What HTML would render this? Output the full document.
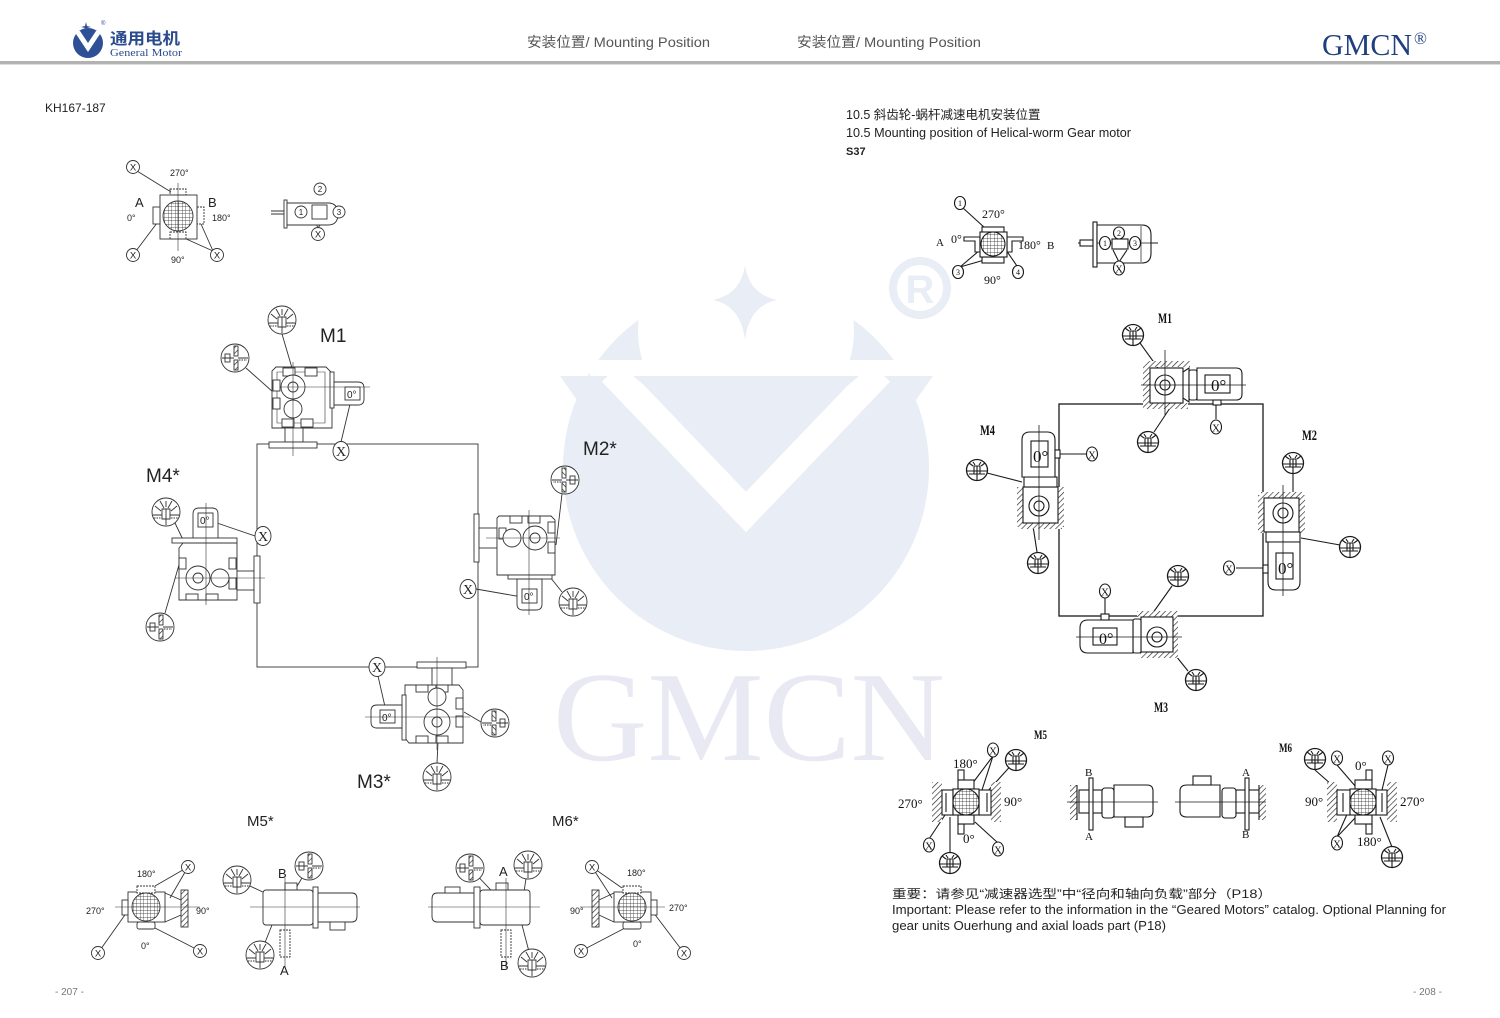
<!DOCTYPE html>
<html><head><meta charset="utf-8">
<style>
html,body{margin:0;padding:0;background:#fff;}
svg{display:block;}
text{font-family:"Liberation Sans","Noto Sans CJK SC",sans-serif;}
.s{font-family:"Liberation Serif","Noto Serif CJK SC",serif;}
</style></head><body>
<svg width="1500" height="1018" viewBox="0 0 1500 1018" xmlns="http://www.w3.org/2000/svg">
<defs>
<pattern id="hp" width="4" height="4" patternUnits="userSpaceOnUse" patternTransform="rotate(45)">
<rect width="4" height="4" fill="#fff"/><line x1="0" y1="0" x2="0" y2="4" stroke="#222" stroke-width="1.3"/></pattern>
<pattern id="gr" width="3.5" height="3.5" patternUnits="userSpaceOnUse">
<rect width="3.5" height="3.5" fill="#fff"/><path d="M0,0 H3.5 M0,0 V3.5" stroke="#222" stroke-width="0.7" fill="none"/></pattern>
<g id="c1"><circle r="14" fill="#fff"/>
<path d="M-13,3 H-4 M4,3 H13 M-4,-3 H4 V7 H-4 Z M0,-3 V13 M-2,-4 L-6,-11 M2,-4 L6,-11 M-5,-1 L-11,-6 M5,-1 L11,-6 M0,-5 V-11"/>
<path d="M-12,6 H-5 M5,6 H12" stroke-dasharray="1.5 1"/></g>
<g id="c2"><circle r="14" fill="#fff"/>
<rect x="-1" y="-12" width="4" height="10" fill="url(#hp)"/><rect x="-1" y="2" width="4" height="10" fill="url(#hp)"/>
<path d="M-13,0 H-1 M3,0 H13"/><rect x="-10" y="-4" width="5" height="8"/><path d="M4,2 H12" stroke-dasharray="1.5 1"/></g>
<g id="c3"><circle r="10.5" fill="#fff" stroke-width="1.3"/>
<path d="M-10,1 H10 M-3,-4 h6 v8 h-6z M0,-4 V10 M-4,-4 L-8,-7 M4,-4 L8,-7 M-2,-5 L-4,-8 M2,-5 L4,-8 M-8,4 H8"/></g>
<g id="x1"><ellipse rx="8" ry="9.5" fill="#fff"/><text class="s" y="5" font-size="14" text-anchor="middle" stroke="none" fill="#222">X</text></g>
<g id="x2"><circle r="6.5" fill="#fff"/><text y="3.5" font-size="9.5" text-anchor="middle" stroke="none" fill="#222">X</text></g>
<g id="x3"><ellipse rx="5.5" ry="7" fill="#fff"/><text class="s" y="4.5" font-size="11" text-anchor="middle" stroke="none" fill="#111">X</text></g>
</defs>

<!-- ===== WATERMARK ===== -->
<circle cx="746" cy="468" r="183" fill="#e8edf6"/>
<circle cx="746" cy="330" r="108" fill="#fff"/>
<polygon points="560,376 933,376 746,640" fill="#e8edf6"/>
<polyline points="612,372 746,512 880,372" fill="none" stroke="#fff" stroke-width="28" stroke-linejoin="miter"/>
<rect x="590" y="360" width="320" height="16" fill="#fff"/>
<polygon points="633,376 859,376 746,470" fill="#e8edf6"/>
<path d="M745,265 Q749,294 777,300 Q749,306 745,340 Q741,306 713,300 Q741,294 745,265Z" fill="#e8edf6"/>
<circle cx="920" cy="288" r="27" fill="none" stroke="#e8edf6" stroke-width="8"/>
<text x="920" y="303" font-size="40" font-weight="bold" text-anchor="middle" fill="#e8edf6">R</text>
<text class="s" x="553" y="760" font-size="128" textLength="392" lengthAdjust="spacingAndGlyphs" fill="#e9e9f4">GMCN</text>

<!-- ===== HEADER ===== -->
<circle cx="88" cy="43" r="15" fill="#2d5097"/>
<path d="M74,31 L88,52 L102,31 L96,31 L88,43 L80,31Z" fill="#fff"/>
<path d="M86,22 L87,26 L91,27 L87,28 L86,32 L85,28 L81,27 L85,26Z" fill="#2d5097"/>
<text x="101" y="25" font-size="6" fill="#2d5097">®</text>
<text x="110" y="44" font-size="16" font-weight="bold" fill="#2a4b8d" textLength="70" lengthAdjust="spacingAndGlyphs" font-family="'Noto Sans CJK SC',sans-serif">通用电机</text>
<text class="s" x="110" y="56" font-size="11" textLength="72" lengthAdjust="spacingAndGlyphs" fill="#2a4b8d">General Motor</text>
<text x="527" y="47" font-size="14" fill="#555" textLength="183" lengthAdjust="spacingAndGlyphs">安装位置/ Mounting Position</text>
<text x="797" y="47" font-size="14" fill="#555" textLength="184" lengthAdjust="spacingAndGlyphs">安装位置/ Mounting Position</text>
<text class="s" x="1322" y="55" font-size="31" fill="#1f3f7e" textLength="90" lengthAdjust="spacingAndGlyphs">GMCN</text>
<text class="s" x="1414" y="44" font-size="17" fill="#1f3f7e">®</text>
<rect x="0" y="61" width="1500" height="3" fill="#b2b2b2"/>
<rect x="0" y="64" width="1500" height="1" fill="#dcdcdc"/>

<!-- ===== LEFT PAGE ===== -->
<text x="45" y="112" font-size="12" fill="#222">KH167-187</text>

<g stroke="#333" stroke-width="0.9" fill="none">
<!-- top small left -->
<path d="M137,171 L171,192 M136,251 L157,223 M213,251 L201,224 M213,251 L184,238"/>
<rect x="160" y="195" width="37" height="44" fill="#fff"/>
<circle cx="178" cy="216" r="15" fill="url(#gr)"/>
<rect x="170" y="189" width="16" height="6" stroke-dasharray="2 1"/>
<rect x="197" y="207" width="7" height="17" stroke-dasharray="2 1"/>
<rect x="170" y="232" width="16" height="7" stroke-dasharray="2 1"/>
<rect x="153" y="207" width="7" height="17" fill="#fff"/>
<path d="M178,183 V251" stroke-width="0.6"/>
<use href="#x2" x="133" y="167"/><use href="#x2" x="133" y="255"/><use href="#x2" x="217" y="255"/>
<!-- top small right motor -->
<path d="M271,211 H284 M271,214 H284"/>
<path d="M318,228 L314,219 M318,228 L324,219"/>
<rect x="284" y="200" width="3" height="28" fill="#fff"/>
<path d="M287,203 H328 Q338,203 338,214 Q338,225 328,225 H287 Z" fill="#fff"/>
<rect x="312" y="205" width="15" height="14"/>
<circle cx="320" cy="189" r="6" fill="#fff"/><circle cx="301" cy="212" r="6" fill="#fff"/><circle cx="339" cy="212" r="6" fill="#fff"/>
<use href="#x2" x="318" y="234"/>

<!-- main rect -->
<rect x="257" y="444" width="221" height="223"/>

<!-- M1 -->
<path d="M282,334 L292,368 M246,368 L282,400 M341,442 L351,400"/>
<path d="M276,367 H326 L332,373 V428 H272 V371 Z" fill="#fff"/>
<path d="M277,372 H325 V423 H277 Z" stroke-width="0.6"/>
<rect x="283" y="368" width="12" height="8" fill="#fff"/><rect x="305" y="368" width="12" height="8" fill="#fff"/>
<rect x="282" y="419" width="12" height="8" fill="#fff"/><rect x="301" y="419" width="12" height="8" fill="#fff"/>
<rect x="273" y="380" width="7" height="11" fill="#fff"/><rect x="273" y="398" width="7" height="11" fill="#fff"/>
<circle cx="293" cy="387" r="12" fill="#fff"/><circle cx="293" cy="387" r="5"/>
<circle cx="293" cy="409" r="9" fill="#fff"/>
<rect x="330" y="372" width="4" height="36" fill="#fff"/>
<path d="M334,382 H358 Q364,382 364,388 V399 Q364,405 358,405 H334 Z" fill="#fff"/>
<rect x="345" y="387" width="15" height="13"/>
<rect x="285" y="428" width="18" height="14" fill="#fff"/>
<rect x="269" y="442" width="48" height="6" fill="#fff"/>
<path d="M293,362 V456 M280,387 H370" stroke-width="0.6"/>
<use href="#c1" x="282" y="320"/><use href="#c2" x="235" y="358"/><use href="#x1" x="341" y="451"/>

<!-- M2* -->
<path d="M562,494 L556,545 M562,592 L546,572 M476,589 L522,597"/>
<rect x="474" y="514" width="5" height="48" fill="#fff"/>
<rect x="479" y="528" width="18" height="20" fill="#fff"/>
<path d="M499,516 H551 L555,520 V575 H497 V518 Z" fill="#fff"/>
<rect x="510" y="516" width="12" height="7" fill="#fff"/><rect x="528" y="516" width="12" height="7" fill="#fff"/>
<rect x="548" y="522" width="7" height="11" fill="#fff"/><rect x="548" y="542" width="7" height="11" fill="#fff"/>
<rect x="499" y="528" width="7" height="11" fill="#fff"/>
<circle cx="535" cy="538" r="12" fill="#fff"/><circle cx="535" cy="538" r="5"/><circle cx="512" cy="538" r="9" fill="#fff"/>
<rect x="508" y="575" width="44" height="4" fill="#fff"/>
<path d="M517,579 H542 V604 Q542,610 536,610 H523 Q517,610 517,604 Z" fill="#fff"/>
<rect x="522" y="589" width="15" height="14"/>
<path d="M529,510 V615 M486,538 H560" stroke-width="0.6"/>
<use href="#c2" transform="translate(565,480) scale(-1,1)"/><use href="#c1" x="573" y="602"/><use href="#x1" x="468" y="589"/>

<!-- M4* -->
<path d="M175,523 L186,546 M165,613 L183,551 M255,536 L214,522"/>
<path d="M193,540 V514 Q193,508 199,508 H212 Q218,508 218,514 V540 Z" fill="#fff"/>
<rect x="198" y="513" width="15" height="14"/>
<rect x="172" y="538" width="65" height="5" fill="#fff"/>
<path d="M183,543 H237 V600 H179 V548 Z" fill="#fff"/>
<rect x="186" y="594" width="12" height="6" fill="#fff"/><rect x="206" y="594" width="12" height="6" fill="#fff"/>
<rect x="179" y="558" width="7" height="11" fill="#fff"/><rect x="229" y="558" width="7" height="11" fill="#fff"/><rect x="229" y="578" width="7" height="11" fill="#fff"/>
<circle cx="198" cy="578" r="12" fill="#fff"/><circle cx="198" cy="578" r="5"/><circle cx="220" cy="578" r="9" fill="#fff"/>
<rect x="237" y="571" width="17" height="19" fill="#fff"/>
<rect x="254" y="556" width="6" height="47" fill="#fff"/>
<path d="M206,503 V605 M175,578 H265" stroke-width="0.6"/>
<use href="#c1" x="166" y="512"/><use href="#c2" x="160" y="627"/><use href="#x1" x="263" y="536"/>

<!-- M3* -->
<path d="M481,722 L464,712 M437,763 L438,742 M378,676 L386,711"/>
<rect x="417" y="662" width="49" height="6" fill="#fff"/>
<rect x="432" y="668" width="20" height="17" fill="#fff"/>
<path d="M405,685 H459 L463,690 V743 H409 L405,738 Z" fill="#fff"/>
<rect x="416" y="685" width="12" height="7" fill="#fff"/><rect x="436" y="685" width="12" height="7" fill="#fff"/>
<rect x="416" y="736" width="12" height="7" fill="#fff"/><rect x="436" y="736" width="12" height="7" fill="#fff"/>
<rect x="456" y="698" width="7" height="11" fill="#fff"/><rect x="456" y="716" width="7" height="11" fill="#fff"/>
<circle cx="437" cy="722" r="13" fill="#fff"/><circle cx="437" cy="722" r="5"/><circle cx="437" cy="697" r="9" fill="#fff"/>
<rect x="402" y="695" width="4" height="45" fill="#fff"/>
<path d="M402,705 H377 Q371,705 371,711 V722 Q371,728 377,728 H402 Z" fill="#fff"/>
<rect x="380" y="710" width="15" height="13"/>
<path d="M437,657 V750 M365,717 H470" stroke-width="0.6"/>
<use href="#c2" transform="translate(495,723) scale(-1,1)"/><use href="#c1" x="437" y="777"/><use href="#x1" x="377" y="667"/>

<!-- M5* left view -->
<path d="M188,867 L155,886 M188,867 L170,898 M98,953 L127,912 M200,951 L155,928"/>
<path d="M165,893 L181,900 M165,922 L181,915"/>
<rect x="181" y="890" width="7" height="37" fill="url(#hp)"/>
<rect x="128" y="892" width="37" height="30" fill="#fff"/>
<rect x="137" y="886" width="18" height="7" stroke-dasharray="2 1" fill="#fff"/>
<rect x="137" y="922" width="18" height="7" rx="2" fill="#fff"/>
<rect x="122" y="900" width="6" height="15" fill="#fff"/>
<circle cx="146" cy="907" r="14" fill="url(#gr)"/>
<path d="M115,907 H200" stroke-width="0.6"/>
<use href="#x2" x="188" y="867"/><use href="#x2" x="98" y="953"/><use href="#x2" x="200" y="951"/>

<!-- M5* side view -->
<path d="M237,880 L265,893 M309,866 L286,905 M260,955 L272,925"/>
<rect x="285" y="883" width="12" height="7" fill="#fff"/>
<rect x="263" y="890" width="50" height="35" rx="3" fill="#fff"/>
<rect x="313" y="887" width="5" height="41" fill="#fff"/>
<path d="M318,893 H352 Q357,893 357,899 V916 Q357,922 352,922 H318 Z" fill="#fff"/>
<rect x="330" y="922" width="15" height="8" fill="#fff"/>
<rect x="280" y="930" width="10" height="27" stroke-dasharray="2 1"/>
<path d="M250,907 H360 M285,878 V968" stroke-width="0.6"/>
<use href="#c1" x="237" y="880"/><use href="#c2" x="309" y="866"/><use href="#c1" x="260" y="955"/>

<!-- M6* side view -->
<path d="M470,868 L505,905 M528,865 L524,892 M532,963 L522,925"/>
<path d="M437,893 H474 V922 H437 Q432,922 432,916 V899 Q432,893 437,893 Z" fill="#fff"/>
<rect x="445" y="887" width="15" height="6" fill="#fff"/>
<rect x="474" y="887" width="6" height="41" fill="#fff"/>
<rect x="496" y="883" width="12" height="7" fill="#fff"/>
<rect x="480" y="890" width="50" height="35" rx="3" fill="#fff"/>
<rect x="501" y="930" width="10" height="27" stroke-dasharray="2 1"/>
<path d="M428,907 H540 M506,878 V968" stroke-width="0.6"/>
<use href="#c2" x="470" y="868"/><use href="#c1" x="528" y="865"/><use href="#c1" x="532" y="963"/>

<!-- M6* right view -->
<path d="M592,867 L622,888 M592,867 L612,898 M581,951 L625,928 M684,953 L653,912"/>
<path d="M614,893 L599,900 M614,922 L599,915"/>
<rect x="592" y="890" width="7" height="37" fill="url(#hp)"/>
<rect x="614" y="892" width="37" height="30" fill="#fff"/>
<rect x="623" y="886" width="18" height="7" stroke-dasharray="2 1" fill="#fff"/>
<rect x="623" y="922" width="18" height="7" rx="2" fill="#fff"/>
<rect x="651" y="900" width="6" height="15" fill="#fff"/>
<circle cx="632" cy="907" r="14" fill="url(#gr)"/>
<path d="M580,907 H665" stroke-width="0.6"/>
<use href="#x2" x="592" y="867"/><use href="#x2" x="581" y="951"/><use href="#x2" x="684" y="953"/>
</g>

<!-- left page texts -->
<g fill="#222" stroke="none">
<text x="170" y="176" font-size="9">270°</text>
<text x="135" y="207" font-size="13">A</text>
<text x="208" y="207" font-size="13">B</text>
<text x="127" y="221" font-size="9">0°</text>
<text x="212" y="221" font-size="9">180°</text>
<text x="171" y="263" font-size="9">90°</text>
<text x="320" y="192" font-size="8" text-anchor="middle">2</text>
<text x="301" y="215" font-size="8" text-anchor="middle">1</text>
<text x="339" y="215" font-size="8" text-anchor="middle">3</text>
<text x="347" y="398" font-size="10">0°</text>
<text x="524" y="600" font-size="10">0°</text>
<text x="200" y="524" font-size="10">0°</text>
<text x="382" y="721" font-size="10">0°</text>
<text x="320" y="342" font-size="19">M1</text>
<text x="583" y="455" font-size="19">M2*</text>
<text x="146" y="482" font-size="19">M4*</text>
<text x="357" y="788" font-size="19">M3*</text>
<text x="247" y="826" font-size="15">M5*</text>
<text x="552" y="826" font-size="15">M6*</text>
<text x="137" y="877" font-size="9">180°</text>
<text x="86" y="914" font-size="9">270°</text>
<text x="196" y="914" font-size="9">90°</text>
<text x="141" y="949" font-size="9">0°</text>
<text x="278" y="878" font-size="13">B</text>
<text x="280" y="975" font-size="13">A</text>
<text x="499" y="876" font-size="13">A</text>
<text x="500" y="970" font-size="13">B</text>
<text x="627" y="876" font-size="9">180°</text>
<text x="570" y="914" font-size="9">90°</text>
<text x="669" y="911" font-size="9">270°</text>
<text x="633" y="947" font-size="9">0°</text>
<text x="55" y="995" font-size="10" fill="#777">- 207 -</text>
<text x="1413" y="995" font-size="10" fill="#777">- 208 -</text>
</g>

<!-- ===== RIGHT PAGE ===== -->
<g fill="#222" stroke="none">
<text x="846" y="119" font-size="12.5">10.5 斜齿轮-蜗杆减速电机安装位置</text>
<text x="846" y="137" font-size="12.5" textLength="285" lengthAdjust="spacingAndGlyphs">10.5 Mounting position of Helical-worm Gear motor</text>
<text x="846" y="155" font-size="11" font-weight="bold">S37</text>
</g>

<g stroke="#1a1a1a" stroke-width="1.1" fill="none">
<!-- top small left (worm view) -->
<path d="M963,208 L985,228 M960,267 L980,250 M960,267 L988,259 M1017,266 L1006,250"/>
<rect x="982" y="227" width="22" height="6" fill="#fff"/>
<rect x="982" y="257" width="22" height="6" fill="#fff"/>
<path d="M964,237 H980 V252 H975 V241 H964 Z" fill="#fff"/>
<path d="M1023,237 H1007 V252 H1012 V241 H1023 Z" fill="#fff"/>
<rect x="980" y="232" width="27" height="25" fill="#fff"/>
<circle cx="993" cy="244" r="12" fill="url(#gr)"/>
<ellipse cx="960" cy="203" rx="5.5" ry="6.5" fill="#fff"/>
<ellipse cx="958" cy="272" rx="5.5" ry="6.5" fill="#fff"/>
<ellipse cx="1018" cy="272" rx="5.5" ry="6.5" fill="#fff"/>
<!-- top small right (motor) -->
<path d="M1078,243 H1158"/>
<rect x="1080" y="240" width="13" height="6" fill="#fff"/>
<rect x="1093" y="222" width="4" height="45" fill="#fff"/>
<path d="M1097,225 H1142 Q1151,225 1151,235 V253 Q1151,263 1142,263 H1097 Z" fill="#fff"/>
<path d="M1141,226 V262 M1097,243 H1158" stroke-width="0.7"/>
<rect x="1112" y="239" width="16" height="10" fill="#fff"/>
<path d="M1119,262 L1113,250 M1119,262 L1127,250"/>
<ellipse cx="1105" cy="243" rx="5.5" ry="6.5" fill="#fff"/>
<ellipse cx="1119" cy="233" rx="5.5" ry="6" fill="#fff"/>
<ellipse cx="1135" cy="243" rx="5.5" ry="6.5" fill="#fff"/>
<use href="#x3" x="1119" y="268"/>

<!-- main rect -->
<rect x="1059" y="404" width="204" height="212" stroke-width="1.3"/>

<!-- M1 -->
<path d="M1140,343 L1158,368 M1170,408 L1154,432 M1216,405 V419"/>
<rect x="1146" y="361" width="44" height="6" fill="url(#hp)" stroke="none"/>
<rect x="1143" y="363" width="7" height="45" fill="url(#hp)" stroke="none"/>
<rect x="1146" y="403" width="42" height="6" fill="url(#hp)" stroke="none"/>
<rect x="1150" y="368" width="33" height="35" fill="#fff"/>
<circle cx="1165" cy="385" r="10" fill="#fff"/><circle cx="1165" cy="385" r="5"/>
<path d="M1183,372 L1189,368 V402 L1183,398"/>
<rect x="1189" y="370" width="8" height="30" rx="2" fill="#fff"/>
<path d="M1197,368 H1236 Q1242,368 1242,374 V394 Q1242,400 1236,400 H1197 Z" fill="#fff"/>
<rect x="1205" y="375" width="25" height="18"/>
<rect x="1213" y="400" width="8" height="5" fill="#fff"/>
<path d="M1141,385 H1246 M1165,350 V415" stroke-width="0.8"/>
<use href="#c3" x="1133" y="335"/><use href="#c3" x="1148" y="442"/><use href="#x3" x="1216" y="427"/>

<!-- M4 -->
<path d="M987,473 L1022,482 M1037,552 L1033,526 M1060,454 H1086"/>
<rect x="1017" y="487" width="6" height="40" fill="url(#hp)" stroke="none"/>
<rect x="1058" y="487" width="6" height="40" fill="url(#hp)" stroke="none"/>
<rect x="1020" y="523" width="42" height="6" fill="url(#hp)" stroke="none"/>
<rect x="1023" y="487" width="35" height="36" fill="#fff"/>
<circle cx="1039" cy="506" r="10" fill="#fff"/><circle cx="1039" cy="506" r="5"/>
<rect x="1024" y="477" width="33" height="10" fill="#fff"/>
<path d="M1022,477 V440 Q1022,432 1030,432 H1047 Q1055,432 1055,440 V477 Z" fill="#fff"/>
<rect x="1031" y="441" width="17" height="26"/>
<rect x="1055" y="450" width="5" height="8" fill="#fff"/>
<path d="M1039,425 V540" stroke-width="0.8"/>
<use href="#c3" x="977" y="470"/><use href="#c3" x="1038" y="563"/><use href="#x3" x="1092" y="454"/>

<!-- M2 -->
<path d="M1293,474 V497 M1340,545 L1301,538 M1236,568 H1263"/>
<rect x="1258" y="495" width="6" height="38" fill="url(#hp)" stroke="none"/>
<rect x="1299" y="495" width="6" height="38" fill="url(#hp)" stroke="none"/>
<rect x="1261" y="492" width="41" height="6" fill="url(#hp)" stroke="none"/>
<rect x="1264" y="498" width="35" height="34" fill="#fff"/>
<circle cx="1283" cy="513" r="10" fill="#fff"/><circle cx="1283" cy="513" r="5"/>
<rect x="1266" y="532" width="34" height="10" fill="#fff"/>
<path d="M1268,542 H1300 V582 Q1300,590 1292,590 H1276 Q1268,590 1268,582 Z" fill="#fff"/>
<rect x="1276" y="553" width="17" height="26"/>
<rect x="1263" y="565" width="5" height="8" fill="#fff"/>
<path d="M1283,485 V596" stroke-width="0.8"/>
<use href="#c3" x="1293" y="463"/><use href="#c3" x="1350" y="547"/><use href="#x3" x="1229" y="568"/>

<!-- M3 -->
<path d="M1172,586 L1150,617 M1188,671 L1176,656 M1105,598 V614"/>
<rect x="1137" y="611" width="41" height="6" fill="url(#hp)" stroke="none"/>
<rect x="1172" y="614" width="6" height="44" fill="url(#hp)" stroke="none"/>
<rect x="1140" y="652" width="36" height="6" fill="url(#hp)" stroke="none"/>
<rect x="1141" y="617" width="32" height="35" fill="#fff"/>
<circle cx="1157" cy="637" r="10" fill="#fff"/><circle cx="1157" cy="637" r="5"/>
<rect x="1133" y="619" width="8" height="34" rx="2" fill="#fff"/>
<path d="M1133,620 H1088 Q1080,620 1080,628 V645 Q1080,653 1088,653 H1133 Z" fill="#fff"/>
<rect x="1093" y="628" width="24" height="17"/>
<rect x="1101" y="614" width="8" height="6" fill="#fff"/>
<path d="M1076,637 H1182" stroke-width="0.8"/>
<use href="#c3" x="1178" y="576"/><use href="#c3" x="1196" y="680"/><use href="#x3" x="1105" y="591"/>

<!-- M5 left view -->
<path d="M993,756 L972,784 M993,756 L982,790 M1016,760 L986,793 M929,839 L945,815 M998,843 L975,822 M950,853 L950,817"/>
<rect x="932" y="782" width="10" height="40" fill="url(#hp)" stroke="none"/>
<rect x="991" y="782" width="10" height="40" fill="url(#hp)" stroke="none"/>
<rect x="942" y="790" width="11" height="25" fill="#fff"/><path d="M946,793 V812"/>
<rect x="979" y="790" width="12" height="25" fill="#fff"/><path d="M987,793 V812"/>
<rect x="958" y="770" width="6" height="10" fill="#fff"/>
<rect x="958" y="780" width="16" height="9" fill="#fff"/>
<rect x="958" y="824" width="6" height="10" fill="#fff"/>
<rect x="958" y="815" width="16" height="9" fill="#fff"/>
<rect x="953" y="789" width="26" height="26" fill="#fff"/>
<circle cx="966" cy="802" r="13" fill="url(#gr)"/>
<use href="#x3" x="993" y="750"/><use href="#x3" x="929" y="845"/><use href="#x3" x="998" y="849"/>
<use href="#c3" x="1016" y="760"/><use href="#c3" x="950" y="863"/>

<!-- M5 side -->
<rect x="1070" y="785" width="7" height="35" fill="url(#hp)" stroke="none"/>
<path d="M1077,785 V820"/>
<rect x="1079" y="790" width="23" height="23" fill="#fff"/>
<rect x="1089" y="778" width="4" height="52" fill="#fff"/>
<rect x="1102" y="788" width="12" height="30" rx="3" fill="#fff"/>
<path d="M1114,785 H1147 Q1153,785 1153,791 V811 Q1153,817 1147,817 H1114 Z" fill="#fff"/>
<rect x="1125" y="817" width="18" height="10" fill="#fff"/>
<path d="M1067,802 H1158" stroke-width="0.8"/>

<!-- M6 side -->
<path d="M1220,785 H1187 Q1180,785 1180,791 V811 Q1180,817 1187,817 H1220 Z" fill="#fff"/>
<rect x="1193" y="776" width="18" height="9" fill="#fff"/>
<rect x="1222" y="788" width="14" height="30" rx="3" fill="#fff"/>
<rect x="1236" y="790" width="23" height="23" fill="#fff"/>
<rect x="1245" y="778" width="4" height="52" fill="#fff"/>
<rect x="1259" y="785" width="7" height="35" fill="url(#hp)" stroke="none"/>
<path d="M1259,785 V820"/>
<path d="M1175,802 H1266" stroke-width="0.8"/>

<!-- M6 right view -->
<path d="M1315,770 L1340,792 M1337,765 L1356,787 M1388,765 L1382,790 M1337,837 L1355,818 M1337,837 L1348,812 M1392,847 L1380,817"/>
<rect x="1327" y="782" width="10" height="40" fill="url(#hp)" stroke="none"/>
<rect x="1387" y="782" width="10" height="40" fill="url(#hp)" stroke="none"/>
<rect x="1337" y="790" width="13" height="25" fill="#fff"/><path d="M1343,793 V812"/>
<rect x="1376" y="790" width="11" height="25" fill="#fff"/><path d="M1382,793 V812"/>
<rect x="1366" y="770" width="6" height="10" fill="#fff"/>
<rect x="1355" y="780" width="17" height="9" fill="#fff"/>
<rect x="1366" y="824" width="6" height="10" fill="#fff"/>
<rect x="1355" y="815" width="17" height="9" fill="#fff"/>
<rect x="1350" y="789" width="26" height="26" fill="#fff"/>
<circle cx="1363" cy="802" r="13" fill="url(#gr)"/>
<use href="#x3" x="1337" y="758"/><use href="#x3" x="1388" y="758"/><use href="#x3" x="1337" y="843"/>
<use href="#c3" x="1315" y="759"/><use href="#c3" x="1392" y="857"/>
</g>

<!-- right page texts -->
<g fill="#111" stroke="none">
<text class="s" x="982" y="218" font-size="12">270°</text>
<text class="s" x="936" y="246" font-size="11">A</text>
<text class="s" x="951" y="243" font-size="12">0°</text>
<text class="s" x="1018" y="249" font-size="12">180°</text>
<text class="s" x="1047" y="249" font-size="11">B</text>
<text class="s" x="984" y="284" font-size="12">90°</text>
<text class="s" x="960" y="206" font-size="8" text-anchor="middle">1</text>
<text class="s" x="958" y="275" font-size="8" text-anchor="middle">3</text>
<text class="s" x="1018" y="275" font-size="8" text-anchor="middle">4</text>
<text class="s" x="1105" y="246" font-size="8" text-anchor="middle">1</text>
<text class="s" x="1119" y="236" font-size="8" text-anchor="middle">2</text>
<text class="s" x="1135" y="246" font-size="8" text-anchor="middle">3</text>
<text class="s" x="1211" y="391" font-size="17">0°</text>
<text class="s" x="1033" y="462" font-size="17">0°</text>
<text class="s" x="1278" y="574" font-size="17">0°</text>
<text class="s" x="1099" y="644" font-size="16">0°</text>
<text class="s" x="1158" y="323" font-size="15" font-weight="bold" textLength="14" lengthAdjust="spacingAndGlyphs">M1</text>
<text class="s" x="1302" y="440" font-size="15" font-weight="bold" textLength="15" lengthAdjust="spacingAndGlyphs">M2</text>
<text class="s" x="980" y="435" font-size="15" font-weight="bold" textLength="15" lengthAdjust="spacingAndGlyphs">M4</text>
<text class="s" x="1154" y="712" font-size="15" font-weight="bold" textLength="14" lengthAdjust="spacingAndGlyphs">M3</text>
<text class="s" x="1034" y="739" font-size="13" font-weight="bold" textLength="13" lengthAdjust="spacingAndGlyphs">M5</text>
<text class="s" x="1279" y="752" font-size="13" font-weight="bold" textLength="13" lengthAdjust="spacingAndGlyphs">M6</text>
<text class="s" x="953" y="768" font-size="13">180°</text>
<text class="s" x="898" y="808" font-size="13">270°</text>
<text class="s" x="1004" y="806" font-size="13">90°</text>
<text class="s" x="963" y="843" font-size="13">0°</text>
<text class="s" x="1085" y="776" font-size="11">B</text>
<text class="s" x="1085" y="840" font-size="11">A</text>
<text class="s" x="1242" y="776" font-size="11">A</text>
<text class="s" x="1242" y="838" font-size="11">B</text>
<text class="s" x="1355" y="770" font-size="13">0°</text>
<text class="s" x="1305" y="806" font-size="13">90°</text>
<text class="s" x="1400" y="806" font-size="13">270°</text>
<text class="s" x="1357" y="846" font-size="13">180°</text>
</g>

<g fill="#222" stroke="none">
<text x="892" y="898" font-size="12" textLength="380" lengthAdjust="spacingAndGlyphs">重要：请参见“减速器选型”中“径向和轴向负载”部分（P18）</text>
<text x="892" y="914" font-size="13" textLength="554" lengthAdjust="spacingAndGlyphs">Important: Please refer to the information in the “Geared Motors” catalog. Optional Planning for</text>
<text x="892" y="930" font-size="13" textLength="274" lengthAdjust="spacingAndGlyphs">gear units Ouerhung and axial loads part (P18)</text>
</g>
</svg>
</body></html>
